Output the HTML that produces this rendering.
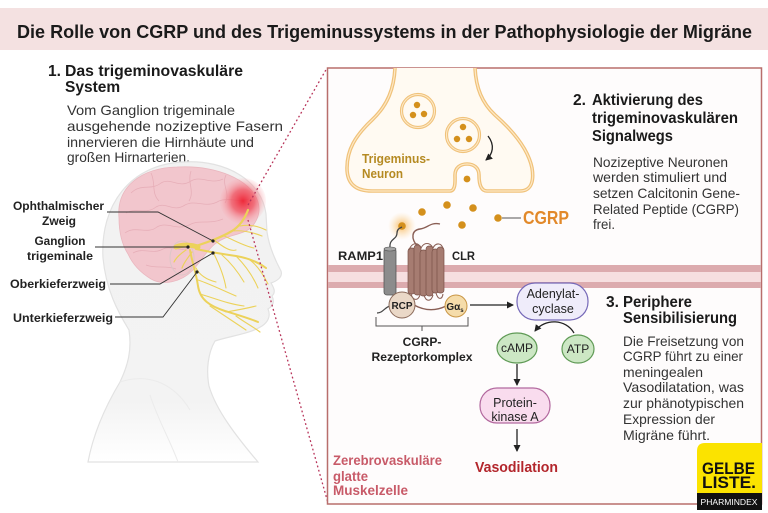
<!DOCTYPE html>
<html><head><meta charset="utf-8"><style>
html,body{margin:0;padding:0;background:#fff;}
svg{display:block;}
text{font-family:"Liberation Sans",Arial,sans-serif;}
</style></head><body>
<svg width="768" height="513" viewBox="0 0 768 513" xmlns="http://www.w3.org/2000/svg">
<defs>
<radialGradient id="glow" cx="0.5" cy="0.5" r="0.5">
<stop offset="0" stop-color="#ee2233" stop-opacity="0.95"/>
<stop offset="0.5" stop-color="#f04a58" stop-opacity="0.7"/>
<stop offset="1" stop-color="#f7a7ae" stop-opacity="0.1"/>
</radialGradient>
<radialGradient id="oglow" cx="0.5" cy="0.5" r="0.5">
<stop offset="0" stop-color="#f6a93a" stop-opacity="0.8"/>
<stop offset="1" stop-color="#fbd9a0" stop-opacity="0"/>
</radialGradient>
<linearGradient id="headfill" x1="0" y1="0" x2="0" y2="1">
<stop offset="0" stop-color="#f2f2f2"/>
<stop offset="0.8" stop-color="#f3f3f3"/>
<stop offset="1" stop-color="#ffffff"/>
</linearGradient>
<marker id="ah" markerWidth="8" markerHeight="8" refX="6" refY="4" orient="auto" markerUnits="userSpaceOnUse">
<path d="M0,0.5 L7,4 L0,7.5 Z" fill="#222"/>
</marker>
</defs>

<!-- title bar -->
<rect x="0" y="8" width="768" height="42" fill="#f4e1e1"/>
<text x="17" y="38" font-size="18" font-weight="bold" fill="#1a1a1a" textLength="735" lengthAdjust="spacingAndGlyphs">Die Rolle von CGRP und des Trigeminussystems in der Pathophysiologie der Migräne</text>

<!-- section 1 text -->
<text x="48" y="76" font-size="15.5" font-weight="bold" fill="#1a1a1a">1.</text>
<text x="65" y="76" font-size="15.5" font-weight="bold" fill="#1a1a1a" textLength="178" lengthAdjust="spacingAndGlyphs">Das trigeminovaskuläre</text>
<text x="65" y="92" font-size="15.5" font-weight="bold" fill="#1a1a1a">System</text>
<g font-size="14" fill="#333">
<text x="67" y="115" textLength="168" lengthAdjust="spacingAndGlyphs">Vom Ganglion trigeminale</text>
<text x="67" y="131" textLength="216" lengthAdjust="spacingAndGlyphs">ausgehende nozizeptive Fasern</text>
<text x="67" y="147" textLength="187" lengthAdjust="spacingAndGlyphs">innervieren die Hirnhäute und</text>
<text x="67" y="162" textLength="123" lengthAdjust="spacingAndGlyphs">großen Hirnarterien.</text>
</g>

<!-- head -->
<path d="M103,258 C100,205 130,165 182,162 C228,159 262,182 266,214 L267,232 C269,246 274,258 281,271 C283,277 277,281 271,283 C274,288 276,292 272,296 C275,302 273,306 268,309 C271,316 268,322 262,326 C250,334 230,336 215,341 C208,353 206,370 209,386 C216,410 236,436 258,462 L88,462 C94,430 108,402 120,382 C128,365 132,350 129,330 C118,312 106,290 103,258 Z" fill="url(#headfill)" stroke="#e2e2e2" stroke-width="1.2"/>
<path d="M120,382 C150,372 175,385 190,410 M150,395 C158,420 170,440 178,462" fill="none" stroke="#ebebeb" stroke-width="1"/>
<!-- brain -->
<g transform="translate(1,3)">
<path d="M118,215 C115,184 140,165 176,164 C214,162 250,176 257,199 C261,212 253,224 245,228 C234,233 224,233 214,241 C205,248 200,259 191,268 C180,279 162,283 150,276 C140,270 132,262 127,251 C120,240 118,228 118,215 Z" fill="#f2c6cd" stroke="#e9b7bf" stroke-width="0.8"/>
<g fill="none" stroke="#e4a9b3" stroke-width="0.8" opacity="0.8">
<path d="M130,190 C140,180 150,188 160,180 C170,174 178,186 190,178 C200,172 210,182 222,176"/>
<path d="M125,210 C135,204 145,212 155,204 C165,198 172,210 184,202 C195,196 205,206 218,198 C228,194 238,200 248,196"/>
<path d="M124,230 C134,222 146,232 156,224 C166,218 176,228 188,222 C198,216 208,222 222,216"/>
<path d="M132,250 C142,244 152,252 162,246 C170,242 180,250 190,244"/>
<path d="M150,170 C155,180 150,190 158,198 M190,168 C186,180 194,188 188,198 M225,172 C220,182 230,190 224,200"/>
<path d="M145,262 C155,266 165,262 175,266"/>
</g>
</g>
<ellipse cx="182" cy="258" rx="12" ry="17" fill="none" stroke="#dcc6c8" stroke-width="1"/>
<!-- red glow -->
<circle cx="243" cy="201" r="23" fill="url(#glow)"/>
<!-- nerves -->
<g fill="none" stroke="#ecd25a" stroke-linecap="round">
<path d="M176,247 C183,244 192,245 198,247" stroke-width="5"/>
<path d="M196,246 C208,242 220,238 232,231 C240,226 245,218 248,210" stroke-width="2.2"/>
<path d="M196,249 C210,252 222,254 236,256 C248,258 258,262 266,268" stroke-width="2"/>
<path d="M190,250 C192,262 196,272 198,286 C200,300 210,306 225,311 C238,315 248,318 258,322" stroke-width="2"/>
<path d="M232,231 C242,230 252,232 262,236 M224,236 C234,240 244,246 254,248 M240,226 C250,224 258,226 266,230 M214,240 C222,246 230,252 236,250" stroke-width="1.1"/>
<path d="M222,255 C230,262 238,272 244,282 M236,256 C244,264 252,274 258,288 M250,260 C258,266 264,276 268,284 M214,254 C220,266 224,276 226,288" stroke-width="1.1"/>
<path d="M198,280 C210,284 222,290 236,296 M200,294 C214,298 228,304 244,306 M210,306 C222,314 234,322 246,330 M226,312 C238,310 248,308 256,306 M236,316 C244,322 252,326 260,332 M196,268 C200,276 208,280 216,282" stroke-width="1.1"/>
<path d="M192,252 C188,258 184,262 182,268 M186,250 C180,254 176,258 174,262" stroke-width="1.2"/>
</g>
<!-- leader lines -->
<g fill="none" stroke="#333" stroke-width="0.9">
<path d="M107,212 L158,212 L213,241"/>
<path d="M95,247 L188,247"/>
<path d="M110,284 L160,284 L213,253"/>
<path d="M115,317 L163,317 L197,272"/>
</g>
<g fill="#222">
<circle cx="213" cy="241" r="1.6"/><circle cx="188" cy="247" r="1.6"/>
<circle cx="213" cy="253" r="1.6"/><circle cx="197" cy="272" r="1.6"/>
</g>
<g font-size="12" font-weight="bold" fill="#222">
<text x="13" y="210" textLength="91" lengthAdjust="spacingAndGlyphs">Ophthalmischer</text>
<text x="59" y="225" text-anchor="middle">Zweig</text>
<text x="60" y="245" text-anchor="middle" textLength="51" lengthAdjust="spacingAndGlyphs">Ganglion</text>
<text x="60" y="260" text-anchor="middle" textLength="66" lengthAdjust="spacingAndGlyphs">trigeminale</text>
<text x="10" y="288" textLength="96" lengthAdjust="spacingAndGlyphs">Oberkieferzweig</text>
<text x="13" y="322" textLength="100" lengthAdjust="spacingAndGlyphs">Unterkieferzweig</text>
</g>

<!-- dotted lines -->
<g stroke="#b8345a" stroke-width="1.3" stroke-dasharray="1.8 2.6" fill="none">
<path d="M248,205 L327,68"/>
<path d="M248,220 L328,503"/>
</g>

<!-- right box -->
<rect x="327.5" y="68" width="434" height="436" fill="#fefcfc" stroke="#b86e6c" stroke-width="1.5"/>
<!-- membrane -->
<rect x="328.3" y="265" width="432.4" height="7" fill="#dcabae"/>
<rect x="328.3" y="272" width="432.4" height="10" fill="#f6dfe0"/>
<rect x="328.3" y="282" width="432.4" height="6" fill="#dcabae"/>

<!-- neuron -->
<path d="M395,68 C394,88 388,105 372,120 C355,136 347,150 347,168 C347,184 356,191 372,191 L450,191 C456,191 455,180 455,175 C455,168 460,164 467,164 C474,164 479,168 479,175 C479,182 480,191 487,191 L520,191 C532,191 534,180 532,168 C528,148 512,130 495,115 C482,103 476,88 475,68" fill="#fffaf2" stroke="#f0c27a" stroke-width="3.6"/>
<path d="M395,68 C394,88 388,105 372,120 C355,136 347,150 347,168 C347,184 356,191 372,191 L450,191 C456,191 455,180 455,175 C455,168 460,164 467,164 C474,164 479,168 479,175 C479,182 480,191 487,191 L520,191 C532,191 534,180 532,168 C528,148 512,130 495,115 C482,103 476,88 475,68" fill="none" stroke="#fde8c6" stroke-width="1.2"/>
<g fill="#fffaf2" stroke="#f0c27a" stroke-width="3.2">
<circle cx="418" cy="111" r="16.5"/><circle cx="463" cy="135" r="16.5"/>
</g>
<g fill="none" stroke="#fde8c6" stroke-width="1.1">
<circle cx="418" cy="111" r="16.5"/><circle cx="463" cy="135" r="16.5"/>
</g>
<g fill="#d4901c">
<circle cx="417" cy="105" r="3.2"/><circle cx="413" cy="115" r="3.2"/><circle cx="424" cy="114" r="3.2"/>
<circle cx="463" cy="127" r="3.2"/><circle cx="457" cy="139" r="3.2"/><circle cx="469" cy="139" r="3.2"/>
<circle cx="467" cy="179" r="3.4"/>
</g>
<path d="M488,136 C495,145 493,154 486,160" fill="none" stroke="#222" stroke-width="1.3" marker-end="url(#ah)"/>
<g font-size="12.5" font-weight="bold" fill="#b58a22">
<text x="362" y="163" textLength="68" lengthAdjust="spacingAndGlyphs">Trigeminus-</text>
<text x="362" y="178" textLength="41" lengthAdjust="spacingAndGlyphs">Neuron</text>
</g>

<!-- CGRP dots -->
<circle cx="402" cy="226" r="14" fill="url(#oglow)"/>
<g fill="#d4901c">
<circle cx="422" cy="212" r="3.8"/><circle cx="447" cy="205" r="3.8"/><circle cx="473" cy="208" r="3.8"/>
<circle cx="462" cy="225" r="3.8"/><circle cx="498" cy="218" r="3.8"/><circle cx="402" cy="226" r="3.8"/>
</g>
<line x1="502" y1="218" x2="521" y2="218" stroke="#555" stroke-width="1"/>
<text x="523" y="224" font-size="18" font-weight="bold" fill="#e2892a" textLength="46" lengthAdjust="spacingAndGlyphs">CGRP</text>

<!-- receptor -->
<path d="M390,248 C389,238 397,240 397,233 C397,229 400,228 402,227" fill="none" stroke="#444" stroke-width="1.3"/>
<rect x="384" y="248" width="12" height="47" rx="3" fill="#8c8c8c" stroke="#555" stroke-width="0.8"/>
<ellipse cx="390" cy="249" rx="6" ry="2" fill="#a5a5a5" stroke="#555" stroke-width="0.6"/>
<path d="M418,247 C410,238 412,230 420,229 C428,228 430,222 440,224" fill="none" stroke="#8a5f55" stroke-width="1.4"/>
<g fill="#a67c71" stroke="#7a5248" stroke-width="0.7">
<rect x="408" y="248" width="7" height="46" rx="3"/>
<rect x="414" y="245" width="7" height="50" rx="3"/>
<rect x="420" y="250" width="7" height="46" rx="3"/>
<rect x="426" y="246" width="7" height="50" rx="3"/>
<rect x="432" y="249" width="7" height="44" rx="3"/>
<rect x="437" y="247" width="7" height="46" rx="3"/>
</g>
<path d="M409,250 C412,242 418,242 421,248 C424,242 430,242 433,248 C436,242 442,243 443,249" fill="none" stroke="#8a5f55" stroke-width="1.1"/>
<path d="M411,294 C413,301 418,301 420,295 M424,295 C426,302 431,302 433,295 M436,293 C438,300 442,300 443,294" fill="none" stroke="#8a5f55" stroke-width="1.1"/>
<path d="M377,313 C383,313 385,307 390,306" fill="none" stroke="#444" stroke-width="1.2"/>
<path d="M414,305 C425,311 436,311 446,306" fill="none" stroke="#8a5f55" stroke-width="1.4"/>
<circle cx="402" cy="305" r="13" fill="#ead8c7" stroke="#8a6a5a" stroke-width="1"/>
<text x="402" y="309" font-size="10" font-weight="bold" fill="#222" text-anchor="middle">RCP</text>
<circle cx="456" cy="306" r="11" fill="#f5dcaa" stroke="#c99645" stroke-width="1"/>
<text x="455" y="310" font-size="10" font-weight="bold" fill="#222" text-anchor="middle">Gα<tspan font-size="6" dy="2">s</tspan></text>
<g font-size="12" font-weight="bold" fill="#222">
<text x="338" y="260" textLength="45" lengthAdjust="spacingAndGlyphs">RAMP1</text>
<text x="452" y="260" textLength="23" lengthAdjust="spacingAndGlyphs">CLR</text>
<text x="422" y="346" text-anchor="middle">CGRP-</text>
<text x="422" y="361" text-anchor="middle" textLength="101" lengthAdjust="spacingAndGlyphs">Rezeptorkomplex</text>
</g>
<path d="M376,317 L376,326 L468,326 L468,317 M422,326 L422,331" fill="none" stroke="#555" stroke-width="1"/>

<!-- pathway -->
<line x1="470" y1="305" x2="513" y2="305" stroke="#222" stroke-width="1.3" marker-end="url(#ah)"/>
<rect x="517" y="283" width="71" height="37" rx="18" fill="#efecfa" stroke="#7568b8" stroke-width="1.2"/>
<g font-size="12.5" fill="#222" text-anchor="middle">
<text x="553" y="298">Adenylat-</text>
<text x="553" y="313">cyclase</text>
</g>
<ellipse cx="517" cy="348" rx="20" ry="15" fill="#cce7c4" stroke="#5f9a55" stroke-width="1.2"/>
<text x="517" y="352" font-size="12" fill="#222" text-anchor="middle">cAMP</text>
<ellipse cx="578" cy="349" rx="16" ry="14" fill="#cce7c4" stroke="#5f9a55" stroke-width="1.2"/>
<text x="578" y="353" font-size="12" fill="#222" text-anchor="middle">ATP</text>
<path d="M574,333 C566,319 545,318 535,331" fill="none" stroke="#222" stroke-width="1.3" marker-end="url(#ah)"/>
<line x1="517" y1="364" x2="517" y2="385" stroke="#222" stroke-width="1.3" marker-end="url(#ah)"/>
<rect x="480" y="388" width="70" height="35" rx="17" fill="#f9dcee" stroke="#b2689e" stroke-width="1.2"/>
<g font-size="12.5" fill="#222" text-anchor="middle">
<text x="515" y="407">Protein-</text>
<text x="515" y="421">kinase A</text>
</g>
<line x1="517" y1="429" x2="517" y2="451" stroke="#222" stroke-width="1.3" marker-end="url(#ah)"/>
<text x="475" y="472" font-size="15" font-weight="bold" fill="#b3262c" textLength="83" lengthAdjust="spacingAndGlyphs">Vasodilation</text>
<g font-size="13.5" font-weight="bold" fill="#c85a68">
<text x="333" y="465" textLength="109" lengthAdjust="spacingAndGlyphs">Zerebrovaskuläre</text>
<text x="333" y="481" textLength="35" lengthAdjust="spacingAndGlyphs">glatte</text>
<text x="333" y="495" textLength="75" lengthAdjust="spacingAndGlyphs">Muskelzelle</text>
</g>

<!-- section 2 text -->
<g font-size="15.5" font-weight="bold" fill="#1a1a1a">
<text x="573" y="105">2.</text>
<text x="592" y="105" textLength="111" lengthAdjust="spacingAndGlyphs">Aktivierung des</text>
<text x="592" y="123" textLength="146" lengthAdjust="spacingAndGlyphs">trigeminovaskulären</text>
<text x="592" y="141" textLength="81" lengthAdjust="spacingAndGlyphs">Signalwegs</text>
</g>
<g font-size="14" fill="#333">
<text x="593" y="167" textLength="135" lengthAdjust="spacingAndGlyphs">Nozizeptive Neuronen</text>
<text x="593" y="182" textLength="134" lengthAdjust="spacingAndGlyphs">werden stimuliert und</text>
<text x="593" y="198" textLength="147" lengthAdjust="spacingAndGlyphs">setzen Calcitonin Gene-</text>
<text x="593" y="214" textLength="146" lengthAdjust="spacingAndGlyphs">Related Peptide (CGRP)</text>
<text x="593" y="229" textLength="22" lengthAdjust="spacingAndGlyphs">frei.</text>
</g>

<!-- section 3 text -->
<g font-size="15.5" font-weight="bold" fill="#1a1a1a">
<text x="606" y="307">3.</text>
<text x="623" y="307" textLength="69" lengthAdjust="spacingAndGlyphs">Periphere</text>
<text x="623" y="323" textLength="114" lengthAdjust="spacingAndGlyphs">Sensibilisierung</text>
</g>
<g font-size="14" fill="#333">
<text x="623" y="346" textLength="121" lengthAdjust="spacingAndGlyphs">Die Freisetzung von</text>
<text x="623" y="361" textLength="120" lengthAdjust="spacingAndGlyphs">CGRP führt zu einer</text>
<text x="623" y="377" textLength="80" lengthAdjust="spacingAndGlyphs">meningealen</text>
<text x="623" y="392" textLength="121" lengthAdjust="spacingAndGlyphs">Vasodilatation, was</text>
<text x="623" y="408" textLength="121" lengthAdjust="spacingAndGlyphs">zur phänotypischen</text>
<text x="623" y="424" textLength="92" lengthAdjust="spacingAndGlyphs">Expression der</text>
<text x="623" y="440" textLength="87" lengthAdjust="spacingAndGlyphs">Migräne führt.</text>
</g>

<!-- logo -->
<path d="M705,443 L762,443 L762,510 L697,510 L697,451 Q697,443 705,443 Z" fill="#fbe300"/>
<rect x="697" y="493" width="65" height="17" fill="#111"/>
<g font-family="'Liberation Mono','DejaVu Sans Mono',monospace" font-weight="bold" fill="#111">
<text x="702" y="474" font-size="17" textLength="53" lengthAdjust="spacingAndGlyphs">GELBE</text>
<text x="702" y="488" font-size="17" textLength="54" lengthAdjust="spacingAndGlyphs">LISTE.</text>
</g>
<text x="729" y="505" font-size="8" fill="#fff" text-anchor="middle" font-family="'Liberation Sans Narrow','Liberation Sans',sans-serif" textLength="57" lengthAdjust="spacingAndGlyphs">PHARMINDEX</text>
</svg>
</body></html>
